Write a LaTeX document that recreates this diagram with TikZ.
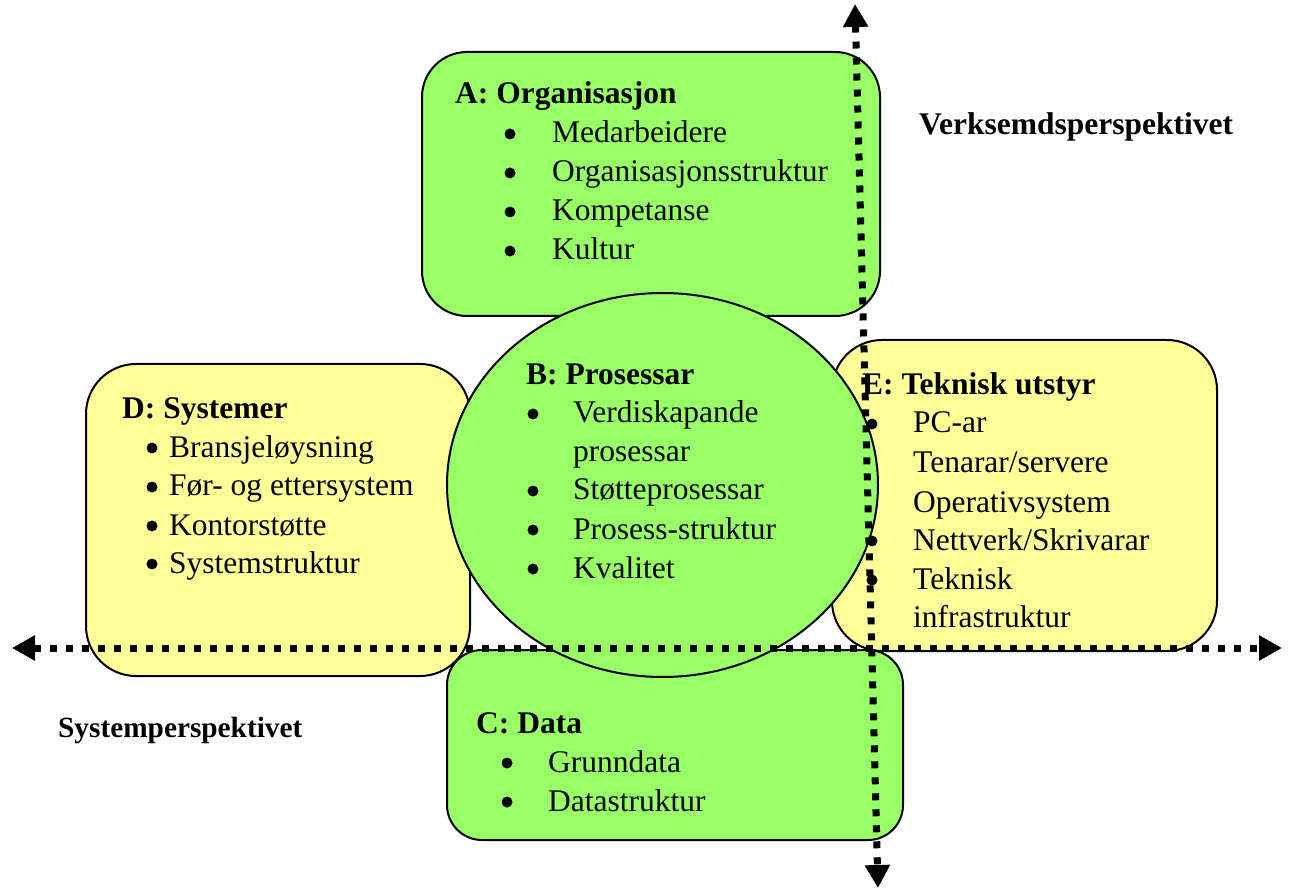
\documentclass[tikz,border=0pt]{standalone}
\usepackage{fontspec}
\setmainfont{Liberation Serif}
\usetikzlibrary{arrows.meta,shapes.geometric}
\definecolor{boxgreen}{RGB}{153,255,102}
\definecolor{boxyellow}{RGB}{255,255,153}
\begin{document}
\begin{tikzpicture}[x=1pt,y=-1pt,
  shapebox/.style={draw=black, line width=2pt, inner sep=0pt, outer sep=0pt},
  gbox/.style={shapebox, fill=boxgreen, rectangle},
  ybox/.style={shapebox, fill=boxyellow, rectangle},
  txt/.style={anchor=base west, inner sep=0pt, font=\fontsize{31.5}{39}\selectfont},
  ttl/.style={txt, font=\fontsize{31.5}{39}\selectfont\bfseries},
  bul/.style={circle, fill=black, inner sep=0pt, minimum size=11pt, yshift=9pt},
  axis/.style={line width=7pt, dash pattern=on 7pt off 9pt,
     {Triangle[length=23pt,width=24pt]}-{Triangle[length=23pt,width=24pt]}}
]
\useasboundingbox (0,0) rectangle (1291,890);

% shapes
\node[gbox, minimum width=456pt, minimum height=190pt, rounded corners=35pt] (C) at (675,745) {};
\node[ybox, minimum width=384pt, minimum height=312pt, rounded corners=50pt] (D) at (278,520) {};
\node[gbox, minimum width=458pt, minimum height=264pt, rounded corners=45pt] (A) at (651,184) {};
\node[ybox, minimum width=385pt, minimum height=311pt, rounded corners=50pt] (E) at (1024.5,495.5) {};
\node[shapebox, fill=boxgreen, ellipse, minimum width=431pt, minimum height=384pt] (B) at (662.5,485) {};

% A
\node[ttl] (At) at (455,104) {A: Organisasjon};
\node[bul] (Ab1) at (510,143) {};
\node[txt] (Ai1) at (552,143) {Medarbeidere};
\node[bul] (Ab2) at (510,182) {};
\node[txt] (Ai2) at (552,182) {Organisasjonsstruktur};
\node[bul] (Ab3) at (510,221) {};
\node[txt] (Ai3) at (552,221) {Kompetanse};
\node[bul] (Ab4) at (510,260) {};
\node[txt] (Ai4) at (552,260) {Kultur};

% B
\node[ttl] (Bt) at (526,385) {B: Prosessar};
\node[bul] (Bb1) at (533,423) {};
\node[txt] (Bi1) at (573,423) {Verdiskapande};
\node[txt] (Bi1b) at (573,461) {prosessar};
\node[bul] (Bb2) at (533,500) {};
\node[txt] (Bi2) at (573,500) {Støtteprosessar};
\node[bul] (Bb3) at (533,539) {};
\node[txt] (Bi3) at (573,539) {Prosess-struktur};
\node[bul] (Bb4) at (533,578) {};
\node[txt] (Bi4) at (573,578) {Kvalitet};

% C
\node[ttl] (Ct) at (476,733) {C: Data};
\node[bul] (Cb1) at (507,772) {};
\node[txt] (Ci1) at (548,772) {Grunndata};
\node[bul] (Cb2) at (507,811) {};
\node[txt] (Ci2) at (548,811) {Datastruktur};

% D
\node[ttl] (Dt) at (122,419) {D: Systemer};
\node[bul] (Db1) at (152,457) {};
\node[txt] (Di1) at (169,457) {Bransjeløysning};
\node[bul] (Db2) at (152,496) {};
\node[txt] (Di2) at (169,496) {Før- og ettersystem};
\node[bul] (Db3) at (152,535) {};
\node[txt] (Di3) at (169,535) {Kontorstøtte};
\node[bul] (Db4) at (152,573) {};
\node[txt] (Di4) at (169,573) {Systemstruktur};

% E
\node[ttl] (Et) at (862,395) {E: Teknisk utstyr};
\node[bul] (Eb1) at (872,433) {};
\node[txt] (Ei1) at (913,433) {PC-ar};
\node[txt] (Ei2) at (913,473) {Tenarar/servere};
\node[txt] (Ei3) at (913,512) {Operativsystem};
\node[bul] (Eb4) at (872,550) {};
\node[txt] (Ei4) at (913,550) {Nettverk/Skrivarar};
\node[bul] (Eb5) at (872,589) {};
\node[txt] (Ei5) at (913,589) {Teknisk};
\node[txt] (Ei5b) at (913,627) {infrastruktur};

% perspective labels
\node[anchor=base west, inner sep=0pt, font=\fontsize{31.5}{38}\selectfont\bfseries] (Vp) at (919,135) {Verksemdsperspektivet};
\node[anchor=base west, inner sep=0pt, font=\fontsize{29.3}{35}\selectfont\bfseries] (Sp) at (58,737) {Systemperspektivet};

% axes
\coordinate (hl) at (12,648);
\coordinate (hr) at (1282,648);
\coordinate (vt) at (855,4);
\coordinate (vb) at (878,888);
\draw[axis] (hl) -- (hr);
\draw[axis] (vt) -- (vb);
\end{tikzpicture}
\end{document}
